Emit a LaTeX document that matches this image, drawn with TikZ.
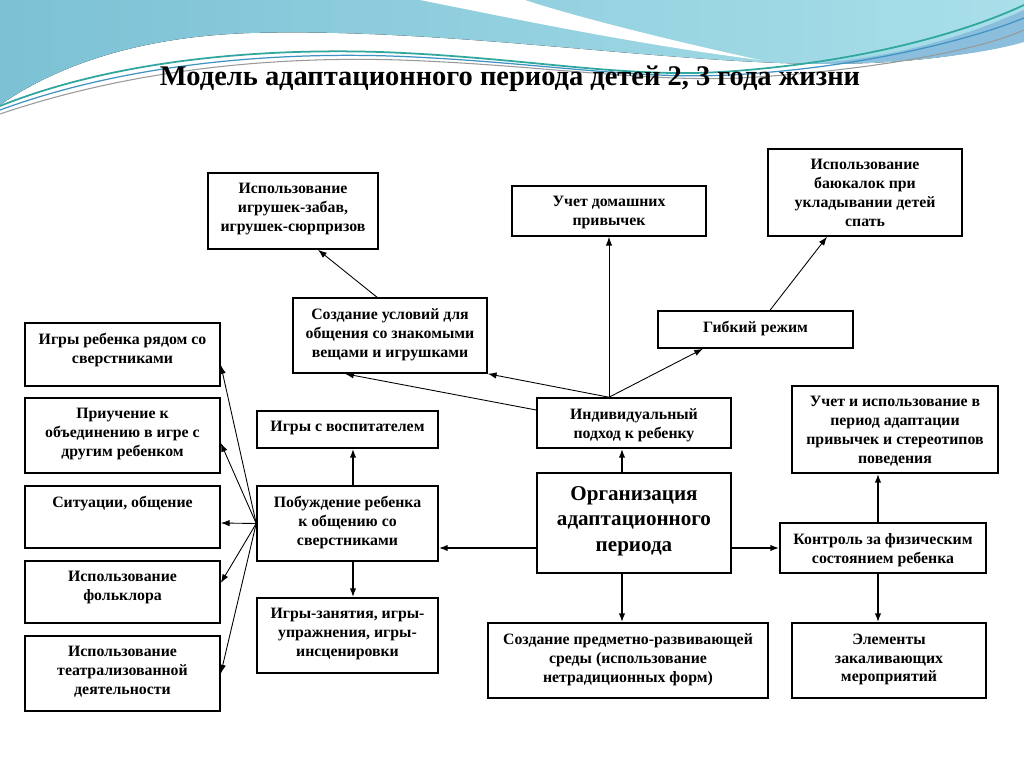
\documentclass[tikz,border=0pt]{standalone}
\usepackage{fontspec}
\setmainfont{Liberation Serif}
\usetikzlibrary{arrows.meta}

\definecolor{waveblue}{HTML}{7CC1D5}
\definecolor{wavelight}{HTML}{A9DFE9}
\definecolor{waveteal}{HTML}{2FA79E}
\definecolor{wavedark}{HTML}{3E93C4}

\tikzset{
  box/.style={draw, line width=0.9pt, fill=white, inner sep=0pt},
  boxtext/.style={anchor=north, yshift=-0.22cm, align=center, inner sep=0pt,
    font=\fontsize{9}{10.8}\selectfont\bfseries},
  arr/.style={-{Latex[length=5pt,width=3.6pt]}, line width=0.5pt},
  main/.style={arr, line width=0.9pt},
}

\begin{document}
\begin{tikzpicture}[x=0.02cm, y=-0.02cm]
    \useasboundingbox (0,0) rectangle (1024,767);
    \fill[white] (0,0) rectangle (1024,767);

    % waves on top
    \fill[left color=waveblue, right color=wavelight] (0,0) -- (1024,0) -- (1024,40)
        .. controls (950,62) and (860,66) .. (780,63)
        .. controls (620,57) and (430,28) .. (250,33)
        .. controls (130,37) and (50,70) .. (0,105) -- cycle;
    \fill[white] (420,0) .. controls (520,20) and (640,45) .. (760,60)
        .. controls (650,36) and (560,12) .. (525,0) -- cycle;
    \fill[wavedark!60] (800,64) .. controls (900,60) and (980,30) .. (1024,10)
        -- (1024,42) .. controls (980,55) and (900,64) .. (800,64) -- cycle;
    \draw[waveteal, line width=1pt] (0,106) .. controls (110,62) and (250,48) .. (380,52)
        .. controls (520,57) and (620,78) .. (720,72) .. controls (850,64) and (960,35) .. (1024,5);
    \draw[wavedark, line width=0.7pt] (0,110) .. controls (120,66) and (260,52) .. (390,56)
        .. controls (530,61) and (630,80) .. (730,75) .. controls (860,68) and (970,40) .. (1024,18);
    \draw[gray!80, line width=0.6pt] (0,114) .. controls (130,70) and (270,56) .. (400,60)
        .. controls (540,65) and (640,82) .. (740,78) .. controls (870,71) and (980,50) .. (1024,30);

    \node[font=\fontsize{16.2}{19}\selectfont\bfseries] (title) at (510,79)
        {Модель адаптационного периода детей 2, 3 года жизни};

    % boxes
    \node[box, minimum width=3.4cm, minimum height=1.52cm,
        label={[boxtext]north:{Использование\\игрушек-забав,\\игрушек-сюрпризов}}] (toys) at (293,211) {};
    \node[box, minimum width=3.88cm, minimum height=1cm,
        label={[boxtext]north:{Учет домашних\\привычек}}] (home) at (609,211) {};
    \node[box, minimum width=3.88cm, minimum height=1.74cm,
        label={[boxtext]north:{Использование\\баюкалок при\\укладывании детей\\спать}}] (lull) at (865,192.5) {};
    \node[box, minimum width=3.88cm, minimum height=1.5cm,
        label={[boxtext]north:{Создание условий для\\общения со знакомыми\\вещами и игрушками}}] (cond) at (390,335.5) {};
    \node[box, minimum width=3.9cm, minimum height=0.74cm,
        label={[boxtext]north:{Гибкий режим}}] (flex) at (755.5,329.5) {};

    \node[box, minimum width=3.9cm, minimum height=1.26cm,
        label={[boxtext]north:{Игры ребенка рядом со\\сверстниками}}] (left1) at (122.5,354.5) {};
    \node[box, minimum width=3.9cm, minimum height=1.5cm,
        label={[boxtext]north:{Приучение к\\объединению в игре с\\другим ребенком}}] (left2) at (122.5,435.5) {};
    \node[box, minimum width=3.9cm, minimum height=1.24cm,
        label={[boxtext]north:{Ситуации, общение}}] (left3) at (122.5,517) {};
    \node[box, minimum width=3.9cm, minimum height=1.24cm,
        label={[boxtext]north:{Использование\\фольклора}}] (left4) at (122.5,592) {};
    \node[box, minimum width=3.9cm, minimum height=1.5cm,
        label={[boxtext]north:{Использование\\театрализованной\\деятельности}}] (left5) at (122.5,673.5) {};

    \node[box, minimum width=3.62cm, minimum height=0.74cm,
        label={[boxtext]north:{Игры с воспитателем}}] (teacher) at (347.5,429.5) {};
    \node[box, minimum width=3.62cm, minimum height=1.5cm,
        label={[boxtext]north:{Побуждение ребенка\\к общению со\\сверстниками}}] (motiv) at (347.5,523.5) {};
    \node[box, minimum width=3.62cm, minimum height=1.5cm,
        label={[boxtext]north:{Игры-занятия, игры-\\упражнения, игры-\\инсценировки}}] (lessons) at (347.5,635.5) {};

    \node[box, minimum width=3.88cm, minimum height=1cm,
        label={[boxtext]north:{Индивидуальный\\подход к ребенку}}] (indiv) at (634,423) {};
    \node[box, minimum width=3.88cm, minimum height=2cm,
        label={[boxtext, yshift=-0.05cm, font=\fontsize{12}{14.7}\selectfont\bfseries]north:{Организация\\адаптационного\\периода}}] (org) at (634,523) {};
    \node[box, minimum width=5.6cm, minimum height=1.5cm,
        label={[boxtext]north:{Создание предметно-развивающей\\среды (использование\\нетрадиционных форм)}}] (env) at (628,660.5) {};

    \node[box, minimum width=4.12cm, minimum height=1.74cm,
        label={[boxtext]north:{Учет и использование в\\период адаптации\\привычек и стереотипов\\поведения}}] (habits) at (895,429.5) {};
    \node[box, minimum width=4.12cm, minimum height=1cm,
        label={[boxtext]north:{Контроль за физическим\\состоянием ребенка}}] (control) at (883,548) {};
    \node[box, minimum width=3.88cm, minimum height=1.5cm,
        label={[boxtext]north:{Элементы\\закаливающих\\мероприятий}}] (elem) at (889,660.5) {};

    % arrows from the centre
    \draw[main] ([xshift=-0.24cm]org.north) -- ([xshift=-0.24cm]indiv.south);
    \draw[main] ([xshift=-0.24cm]org.south) -- ([xshift=-0.24cm]org.south |- env.north);
    \draw[main] ([yshift=-0.5cm]org.west) -- ([yshift=-0.5cm]org.west -| motiv.east);
    \draw[main] ([yshift=-0.5cm]org.east) -- (control.west);
    \draw[main] ([xshift=-0.1cm]control.north) -- ([xshift=-0.1cm]control.north |- habits.south);
    \draw[main] ([xshift=-0.1cm]control.south) -- ([xshift=-0.1cm]control.south |- elem.north);
    \draw[main] ([xshift=0.11cm]motiv.north) -- ([xshift=0.11cm]teacher.south);
    \draw[main] ([xshift=0.11cm]motiv.south) -- ([xshift=0.11cm]lessons.north);

    % individual approach
    \draw[arr] (home.south |- indiv.north) -- (home.south);
    \draw[arr] (home.south |- indiv.north) -- ([xshift=-1.05cm]flex.south);
    \draw[arr] (home.south |- indiv.north) -- (cond.south east);
    \draw[arr] ([yshift=0.26cm]indiv.west) -- ([xshift=-0.9cm]cond.south);
    \draw[arr] ([xshift=0.29cm]flex.north) -- ([xshift=-0.76cm]lull.south);
    \draw[arr] ([xshift=-0.26cm]cond.north) -- ([xshift=0.5cm]toys.south);

    % fan to the left
    \draw[arr] (motiv.west) -- ([yshift=-0.21cm]left1.east);
    \draw[arr] (motiv.west) -- ([yshift=-0.15cm]left2.east);
    \draw[arr] (motiv.west) -- ([yshift=-0.12cm]left3.east);
    \draw[arr] (motiv.west) -- ([yshift=0.18cm]left4.east);
    \draw[arr] (motiv.west) -- (left5.east);
\end{tikzpicture}
\end{document}
